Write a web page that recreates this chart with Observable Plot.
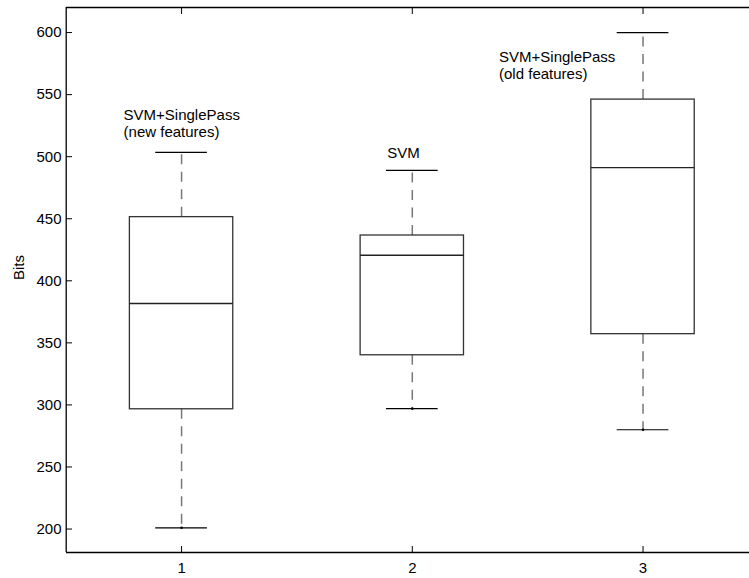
<!DOCTYPE html>
<html><head><meta charset="utf-8">
<script src="https://cdn.jsdelivr.net/npm/d3@7"></script>
<script src="https://cdn.jsdelivr.net/npm/@observablehq/plot@0.6"></script>
<style>body{margin:0;background:#fff} svg{display:block}</style>
</head><body><div id="chart"></div>
<script>
// ---- data ----
const groups = [1, 2, 3];
const lowerWhisker = [201, 297, 280];
const q1 = [296.5, 340, 357];
const medians = [381.7, 420.6, 491.2];
const q3 = [451.3, 436.5, 546];
const upperWhisker = [503.5, 489, 600];
const boxLabels = ["SVM+SinglePass\n(new features)", "SVM", "SVM+SinglePass\n(old features)"];
const yTicks = [200, 250, 300, 350, 400, 450, 500, 550, 600];
const xTicks = [1, 2, 3];
const yLabel = "Bits";

// ---- table ----
const boxes = groups.map((g, i) => ({
  g, lo: lowerWhisker[i], q1: q1[i], med: medians[i], q3: q3[i], hi: upperWhisker[i], label: boxLabels[i]
}));

const halfBox = 0.224, halfCap = 0.112;
const labelOffsets = [{dx: -58, dy: -44}, {dx: -25, dy: -24}, {dx: -144, dy: 18}];
const font = "'Liberation Sans', Arial, Helvetica, sans-serif";

const labelMarks = boxes.map((b, i) => Plot.text([b], {
  x: "g", y: "hi", text: "label", textAnchor: "start", lineAnchor: "top",
  dx: labelOffsets[i].dx, dy: labelOffsets[i].dy, fontSize: 15, lineHeight: 1.1, fill: "#000"
}));

const chart = Plot.plot({
  width: 749, height: 578,
  marginLeft: 66, marginRight: 0, marginTop: 7, marginBottom: 26,
  style: {fontFamily: font, fontSize: "15px", background: "#fff", color: "#000"},
  x: {domain: [0.5, 3.5], range: [65.7, 757.9]},
  y: {domain: [181.1, 620.2]},
  marks: [
    // whiskers (dashed)
    Plot.ruleX(boxes, {x: "g", y1: "q3", y2: "hi", stroke: "#777", strokeWidth: 1.5, strokeDasharray: "10,7.5"}),
    Plot.ruleX(boxes, {x: "g", y1: "q1", y2: "lo", stroke: "#777", strokeWidth: 1.5, strokeDasharray: "10,7.5"}),
    // caps
    Plot.ruleY(boxes, {y: "hi", x1: d => d.g - halfCap, x2: d => d.g + halfCap, stroke: "#000", strokeWidth: 1.2}),
    Plot.ruleY(boxes, {y: "lo", x1: d => d.g - halfCap, x2: d => d.g + halfCap, stroke: "#000", strokeWidth: 1.2}),
    Plot.dot(boxes, {x: "g", y: "lo", r: 1.3, fill: "#000", stroke: null}),
    // boxes
    Plot.rect(boxes, {x1: d => d.g - halfBox, x2: d => d.g + halfBox, y1: "q1", y2: "q3", fill: "none", stroke: "#333", strokeWidth: 1.3}),
    // medians
    Plot.ruleY(boxes, {y: "med", x1: d => d.g - halfBox, x2: d => d.g + halfBox, stroke: "#222", strokeWidth: 1.3}),
    // frame
    Plot.ruleX([0.5], {stroke: "#000", strokeWidth: 1.3}),
    Plot.ruleY([181.1], {stroke: "#000", strokeWidth: 1.3}),
    Plot.ruleY([620.2], {stroke: "#000", strokeWidth: 1.3}),
    // axes
    Plot.axisY(yTicks, {anchor: "left", tickSize: 0, tickPadding: 5, fontSize: 15, label: null, tickFormat: "d"}),
    Plot.axisY(yTicks, {anchor: "left", tickSize: -6, tickFormat: () => "", label: null}),
    Plot.axisX(xTicks, {anchor: "bottom", tickSize: 0, tickPadding: 10, fontSize: 15, label: null, tickFormat: "d"}),
    Plot.axisX(xTicks, {anchor: "bottom", tickSize: -6, tickFormat: () => "", label: null}),
    Plot.axisX(xTicks, {anchor: "top", tickSize: -6, tickFormat: () => "", label: null}),
    // y label
    Plot.text([yLabel], {text: d => d, frameAnchor: "left", rotate: -90, dx: -47, fontSize: 15, fill: "#000"}),
    ...labelMarks
  ]
});
document.getElementById("chart").append(chart);
</script>
</body></html>
